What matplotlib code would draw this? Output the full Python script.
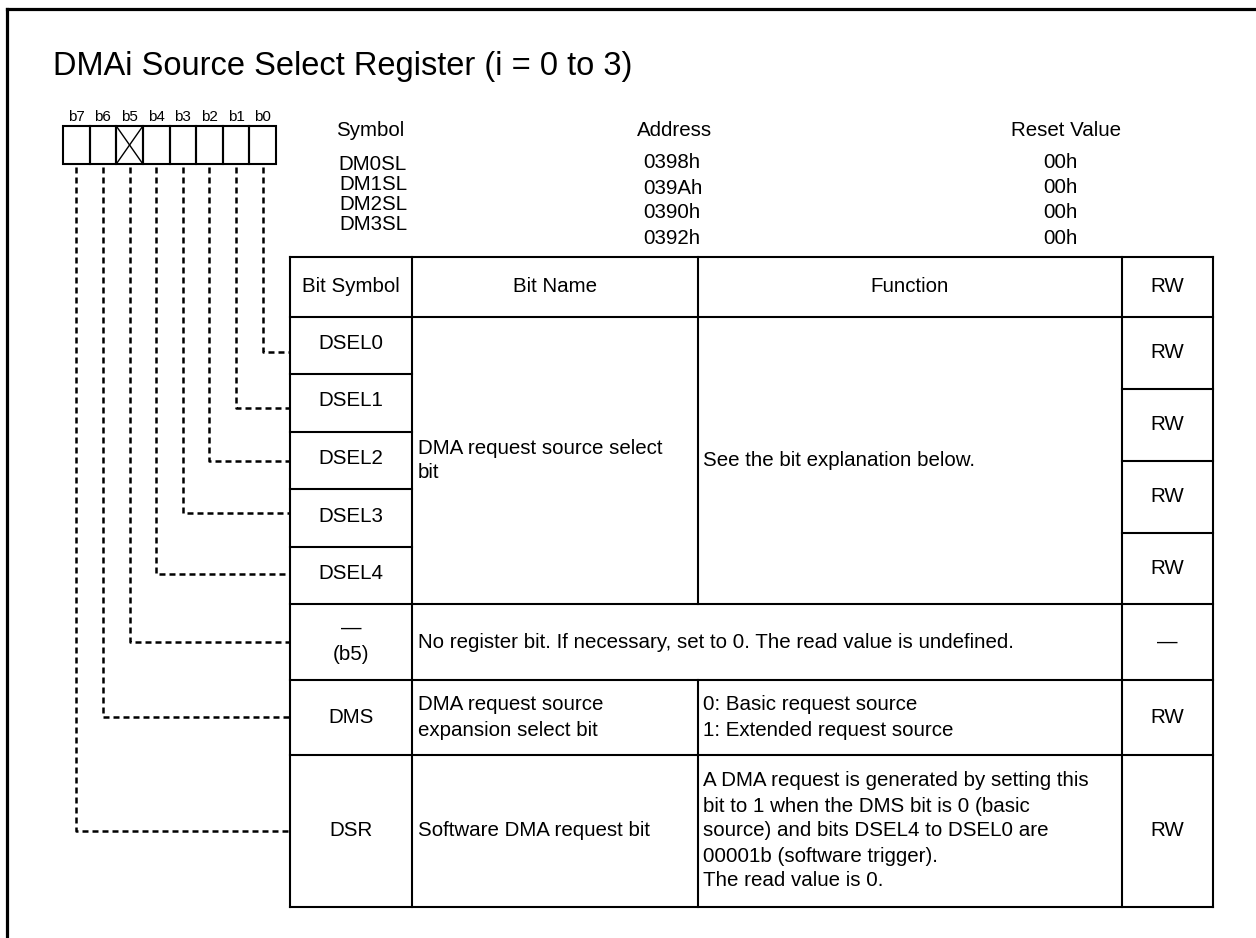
import matplotlib
matplotlib.use("Agg")
import matplotlib.pyplot as plt
from matplotlib.lines import Line2D

plt.rcParams['font.family'] = ['Liberation Sans', 'DejaVu Sans']

W, H = 1256, 938

title = "DMAi Source Select Register (i = 0 to 3)"
bit_labels = ["b7", "b6", "b5", "b4", "b3", "b2", "b1", "b0"]
reserved_bit = "b5"

reg_symbols = ["DM0SL", "DM1SL", "DM2SL", "DM3SL"]
reg_addresses = ["0398h", "039Ah", "0390h", "0392h"]
reg_resets = ["00h", "00h", "00h", "00h"]

header = ["Bit Symbol", "Bit Name", "Function", "RW"]
dsel_symbols = ["DSEL0", "DSEL1", "DSEL2", "DSEL3", "DSEL4"]
dsel_name = ["DMA request source select", "bit"]
dsel_function = ["See the bit explanation below."]
dsel_rw = ["RW", "RW", "RW", "RW"]
b5_symbol = ["\u2014", "(b5)"]
b5_text = ["No register bit. If necessary, set to 0. The read value is undefined."]
b5_rw = "\u2014"
dms_symbol = "DMS"
dms_name = ["DMA request source", "expansion select bit"]
dms_function = ["0: Basic request source", "1: Extended request source"]
dms_rw = "RW"
dsr_symbol = "DSR"
dsr_name = ["Software DMA request bit"]
dsr_function = ["A DMA request is generated by setting this",
                "bit to 1 when the DMS bit is 0 (basic",
                "source) and bits DSEL4 to DSEL0 are",
                "00001b (software trigger).",
                "The read value is 0."]
dsr_rw = "RW"

# layout (pixels)
cols = [290, 412, 698, 1122, 1213]
rows = [257, 317, 374, 432, 489, 547, 604, 680, 755, 907]
rw_rows = [317, 389, 461, 533, 605]
box_x0, box_x1, box_y0, box_y1 = 63, 276, 126, 164
link_y = [352, 408, 461, 513, 574, 642, 717, 831]  # b0 .. b7
LW = 1.5
FS = 14.8
LSP = 25

fig = plt.figure(figsize=(W / 100, H / 100), dpi=100)
ax = fig.add_axes([0, 0, 1, 1])
ax.set_xlim(0, W)
ax.set_ylim(H, 0)
ax.axis('off')


def line(x, y, **kw):
    kw.setdefault('color', 'black')
    kw.setdefault('lw', LW)
    ax.add_line(Line2D(x, y, solid_capstyle='projecting', **kw))


def lines_block(texts, x, yc, ha='left'):
    n = len(texts)
    for k, t in enumerate(texts):
        y = yc + (k - (n - 1) / 2) * LSP
        ax.text(x, y, t, fontsize=FS, ha=ha, va='center')


# frame
line([7, W], [9, 9], lw=2.3)
line([7, 7], [9, H], lw=2.3)

ax.text(53, 66, title, fontsize=23.5, ha='left', va='center')

# bit boxes
cw = (box_x1 - box_x0) / len(bit_labels)
for i, b in enumerate(bit_labels):
    x0 = box_x0 + i * cw
    ax.add_patch(plt.Rectangle((x0, box_y0), cw, box_y1 - box_y0,
                               fill=False, lw=LW, ec='black'))
    ax.text(x0 + cw / 2, 117, b, fontsize=11, ha='center', va='center')
    if b == reserved_bit:
        line([x0, x0 + cw], [box_y0, box_y1], lw=1.0)
        line([x0, x0 + cw], [box_y1, box_y0], lw=1.0)

# dashed connectors
for i, b in enumerate(bit_labels):
    bitnum = int(b[1])
    x = box_x0 + i * cw + cw / 2
    y = link_y[bitnum]
    ax.add_line(Line2D([x, x, cols[0]], [box_y1 + 3, y, y], color='black',
                       lw=1.8, ls=(0, (2.4, 1.6))))

# register info
ax.text(370, 131, "Symbol", fontsize=FS, ha='center', va='center')
ax.text(675, 131, "Address", fontsize=FS, ha='center', va='center')
ax.text(1066, 131, "Reset Value", fontsize=FS, ha='center', va='center')
for k, s in enumerate(reg_symbols):
    ax.text(373, 164 + k * 20, s, fontsize=FS, ha='center', va='center')
for k, a in enumerate(reg_addresses):
    ax.text(643, 163 + k * 25, a, fontsize=FS, ha='left', va='center')
for k, r in enumerate(reg_resets):
    ax.text(1060, 162 + k * 25.5, r, fontsize=FS, ha='center', va='center')

# table grid
line([cols[0], cols[-1]], [rows[0], rows[0]])
line([cols[0], cols[-1]], [rows[-1], rows[-1]])
line([cols[0], cols[-1]], [rows[1], rows[1]])
for y in rows[2:6]:
    line([cols[0], cols[1]], [y, y])
for y in rw_rows[1:4]:
    line([cols[3], cols[4]], [y, y])
for y in rows[6:9]:
    line([cols[0], cols[-1]], [y, y])
for x in [cols[0], cols[1], cols[3], cols[4]]:
    line([x, x], [rows[0], rows[-1]])
line([cols[2], cols[2]], [rows[0], rows[6]])
line([cols[2], cols[2]], [rows[7], rows[-1]])


def cx(c):
    return (cols[c] + cols[c + 1]) / 2


def cy(r0, r1):
    return (rows[r0] + rows[r1]) / 2


tx1 = cols[1] + 6
tx2 = cols[2] + 5

for c, h in enumerate(header):
    ax.text(cx(c), cy(0, 1), h, fontsize=FS, ha='center', va='center')

for k, s in enumerate(dsel_symbols):
    ax.text(cx(0), cy(1 + k, 2 + k) - 2, s, fontsize=FS, ha='center', va='center')
lines_block(dsel_name, tx1, cy(1, 6))
lines_block(dsel_function, tx2, cy(1, 6))
for k, r in enumerate(dsel_rw):
    ax.text(cx(3), (rw_rows[k] + rw_rows[k + 1]) / 2, r,
            fontsize=FS, ha='center', va='center')

ax.text(cx(0), 628, b5_symbol[0], fontsize=FS, ha='center', va='center')
ax.text(cx(0), 655, b5_symbol[1], fontsize=FS, ha='center', va='center')
lines_block(b5_text, tx1, cy(6, 7))
ax.text(cx(3), cy(6, 7), b5_rw, fontsize=FS, ha='center', va='center')

ax.text(cx(0), cy(7, 8), dms_symbol, fontsize=FS, ha='center', va='center')
lines_block(dms_name, tx1, cy(7, 8))
lines_block(dms_function, tx2, cy(7, 8))
ax.text(cx(3), cy(7, 8), dms_rw, fontsize=FS, ha='center', va='center')

ax.text(cx(0), cy(8, 9), dsr_symbol, fontsize=FS, ha='center', va='center')
lines_block(dsr_name, tx1, cy(8, 9))
lines_block(dsr_function, tx2, cy(8, 9))
ax.text(cx(3), cy(8, 9), dsr_rw, fontsize=FS, ha='center', va='center')

fig.savefig("out.png", dpi=100)
